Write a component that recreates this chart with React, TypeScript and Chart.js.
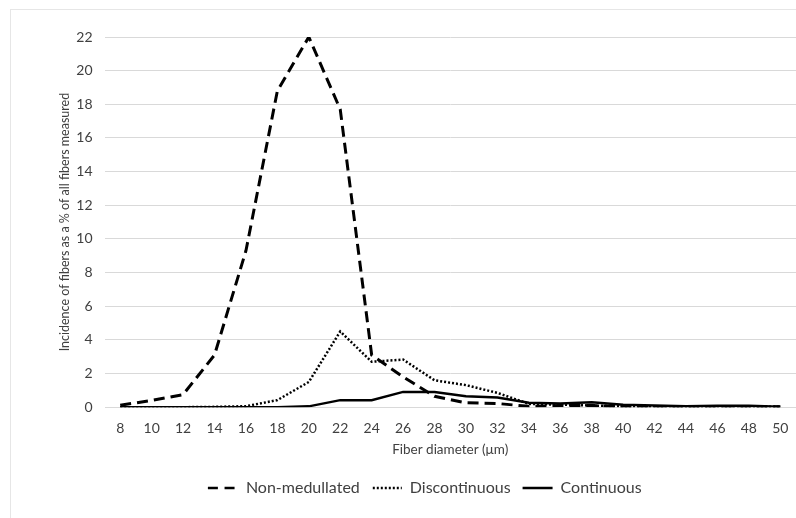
import React, { useEffect, useRef } from 'react';
import { Chart, registerables } from 'chart.js';

Chart.register(...registerables);

const categories = ['8', '10', '12', '14', '16', '18', '20', '22', '24', '26', '28', '30', '32', '34', '36', '38', '40', '42', '44', '46', '48', '50'];
const nonMedullated = [0.12, 0.4, 0.75, 3.1, 9.3, 18.8, 22.0, 17.7, 3.1, 1.8, 0.65, 0.26, 0.22, 0.05, 0.1, 0.1, 0.02, 0.02, 0.02, 0.02, 0.02, 0.02];
const discontinuous = [0, 0, 0, 0.02, 0.06, 0.42, 1.5, 4.5, 2.7, 2.83, 1.6, 1.31, 0.85, 0.2, 0.15, 0.1, 0.05, 0.03, 0.02, 0.02, 0.02, 0.02];
const continuous = [0, 0, 0, 0, 0, 0, 0.05, 0.42, 0.42, 0.91, 0.91, 0.65, 0.57, 0.26, 0.22, 0.3, 0.14, 0.1, 0.06, 0.08, 0.08, 0.03];
const seriesNames = ['Non-medullated', 'Discontinuous', 'Continuous'];
const yTitle = 'Incidence of fibers as a % of all fibers measured';
const xTitle = 'Fiber diameter (\u03bcm)';

const FONT = 'Lato, "Open Sans", sans-serif';
const TEXT = '#404040';

// legend dash patterns (symmetric so the zero-height box stroke retraces itself)
const legendDash = [[10, 6.67], [2, 2], []];
const legendDashOffset = [0, 3, 0];

export default function App() {
  const ref = useRef<HTMLCanvasElement>(null);
  useEffect(() => {
    const chart = new Chart(ref.current!, {
      type: 'line',
      data: {
        labels: categories,
        datasets: [
          { label: seriesNames[0], data: nonMedullated, borderColor: '#000', backgroundColor: '#000', borderWidth: 3, borderDash: [11, 6], pointRadius: 0, tension: 0 },
          { label: seriesNames[1], data: discontinuous, borderColor: '#000', backgroundColor: '#000', borderWidth: 2.5, borderDash: [2, 2], pointRadius: 0, tension: 0 },
          { label: seriesNames[2], data: continuous, borderColor: '#000', backgroundColor: '#000', borderWidth: 2.5, pointRadius: 0, tension: 0 },
        ],
      },
      options: {
        responsive: false,
        animation: false,
        layout: { padding: { left: 53.5, right: 0, top: 37, bottom: 12 } },
        scales: {
          x: {
            type: 'category',
            offset: true,
            grid: { display: false },
            border: { display: false },
            ticks: { color: TEXT, font: { family: FONT, size: 14 }, padding: 5, maxRotation: 0, autoSkip: false },
            title: { display: true, text: xTitle, color: TEXT, font: { family: FONT, size: 13.5 }, padding: { top: 6, bottom: 10 } },
            afterFit: (s: any) => { s.height = 60.8; },
          },
          y: {
            min: 0,
            max: 22,
            ticks: { stepSize: 2, color: TEXT, font: { family: FONT, size: 14 }, padding: 12 },
            grid: { color: '#d9d9d9', lineWidth: 1, drawTicks: false },
            border: { display: false },
            title: { display: true, text: yTitle, color: TEXT, font: { family: FONT, size: 12.5 }, padding: { top: 4, bottom: 4 } },
            afterFit: (s: any) => { s.width = 51; },
          },
        },
        plugins: {
          legend: {
            position: 'bottom',
            labels: {
              boxWidth: 30,
              boxHeight: 0,
              color: TEXT,
              font: { family: FONT, size: 16 },
              padding: 12,
              generateLabels: (c: any) => {
                const items = Chart.defaults.plugins.legend.labels.generateLabels(c);
                return items.map((it: any, i: number) => ({
                  ...it,
                  lineDash: legendDash[i],
                  lineDashOffset: legendDashOffset[i],
                  lineWidth: 2.5,
                  fillStyle: 'rgba(0,0,0,0)',
                }));
              },
            },
          },
          tooltip: { enabled: false },
        },
      },
    } as any);
    return () => chart.destroy();
  }, []);
  return (
    <div style={{ position: 'fixed', left: 0, top: 0, width: 796, height: 518, background: '#fff', overflow: 'hidden' }}>
      <div style={{ position: 'absolute', left: 10, top: 9, width: 820, height: 540, borderLeft: '1px solid #e6e6e6', borderTop: '1px solid #e6e6e6' }} />
      <canvas ref={ref} width={796} height={518} style={{ position: 'absolute', left: 0, top: 0 }} />
    </div>
  );
}
